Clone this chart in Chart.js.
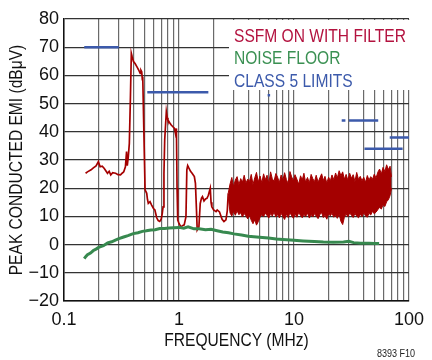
<!DOCTYPE html>
<html>
<head>
<meta charset="utf-8">
<script src="https://cdn.jsdelivr.net/npm/chart.js@4"></script>
<style>
  html, body { margin: 0; padding: 0; background: #fff; }
  #wrap { width: 432px; height: 360px; }
</style>
</head>
<body>
<div id="wrap"><canvas id="emi" width="432" height="360"></canvas></div>
<script>
// SSFM on with filter, low-frequency trace (MHz, dBuV)
const redFreq = [0.154, 0.16, 0.172, 0.18, 0.19, 0.199, 0.206, 0.215, 0.224, 0.239, 0.247, 0.255, 0.265, 0.281, 0.295, 0.31, 0.322, 0.331, 0.342, 0.35, 0.355, 0.362, 0.37, 0.378, 0.385, 0.392, 0.402, 0.415, 0.43, 0.445, 0.46, 0.467, 0.474, 0.48, 0.484, 0.495, 0.507, 0.524, 0.532, 0.541, 0.56, 0.578, 0.6, 0.617, 0.64, 0.66, 0.68, 0.7, 0.715, 0.727, 0.74, 0.751, 0.776, 0.79, 0.801, 0.83, 0.856, 0.885, 0.914, 0.932, 0.95, 0.962, 0.975, 1.0, 1.04, 1.08, 1.11, 1.15, 1.17, 1.19, 1.22, 1.26, 1.3, 1.36, 1.39, 1.42, 1.44, 1.49, 1.53, 1.57, 1.6, 1.65, 1.7, 1.75, 1.8, 1.87, 1.9, 1.93, 2.0, 2.1, 2.15, 2.25, 2.37, 2.46, 2.56, 2.63, 2.68];
const redDb = [25.3, 25.8, 26.5, 27.2, 27.9, 29.4, 27.6, 27.8, 27.0, 25.3, 26.0, 24.7, 25.5, 25.3, 24.8, 24.7, 25.4, 25.8, 27.6, 33, 28, 31, 35.9, 52, 67.8, 66.5, 64.9, 64.2, 63.1, 62, 60.7, 61.8, 61.3, 58.5, 59.5, 40, 19.4, 18.2, 16, 14.6, 15.2, 14, 12.8, 12.3, 9.5, 8.5, 8.2, 9, 11, 13.4, 25, 37.1, 47.1, 45, 44.2, 43.2, 42.4, 41.8, 41.2, 39.4, 41.2, 20, 8.7, 7.5, 6.3, 6.8, 7.0, 9.9, 26.5, 28, 27.1, 26, 25.3, 24.1, 21.7, 12, 5.2, 6.3, 14.6, 16.5, 17, 15.5, 16.2, 16.4, 17.5, 20, 15, 13.4, 12.3, 11.7, 12.3, 11.6, 9, 8.2, 8.8, 12, 18.2];

// SSFM on with filter, dense spur region: upper and lower edge of the trace
const bandFreq = [
    2.68, 2.78, 2.88, 2.98, 3.09, 3.2, 3.32, 3.44, 3.56, 3.69,
    3.82, 3.96, 4.1, 4.25, 4.4, 4.56, 4.72, 4.89, 5.07, 5.25,
    5.44, 5.63, 5.83, 6.04, 6.26, 6.48, 6.71, 6.95, 7.2, 7.46,
    7.73, 8.0, 8.29, 8.59, 8.9, 9.22, 9.55, 9.89, 10.2, 10.6,
    11.0, 11.4, 11.8, 12.2, 12.6, 13.1, 13.6, 14.1, 14.6, 15.1,
    15.6, 16.2, 16.8, 17.4, 18.0, 18.6, 19.3, 20.0, 20.7, 21.4,
    22.2, 23.0, 23.8, 24.7, 25.6, 26.5, 27.4, 28.4, 29.4, 30.5,
    31.6, 32.7, 33.9, 35.1, 36.4, 37.7, 39.0, 40.4, 41.9, 43.4,
    44.9, 46.5, 48.2, 49.9, 51.7, 53.6, 55.5, 57.5, 59.5, 61.7,
    63.9, 66.2, 68.5, 70.5];
const bandHi = [
    18.2, 21.5, 23.8, 20.6, 22.9, 24.1, 21.2, 23.4, 22.1, 24.6,
    21.8, 23.2, 22.4, 24.9, 21.3, 23.7, 25.6, 22.2, 24.3, 21.9,
    25.1, 23.0, 24.6, 21.7, 25.8, 23.3, 22.5, 25.2, 23.9, 22.0,
    24.7, 22.8, 25.5, 23.1, 21.6, 25.9, 24.0, 22.6, 24.8, 23.2,
    21.4, 24.4, 22.9, 25.3, 22.2, 23.8, 21.9, 24.9, 23.3, 22.4,
    24.6, 22.1, 23.7, 25.1, 22.7, 24.2, 21.8, 23.9, 22.6, 24.7,
    23.0, 25.4, 23.6, 26.2, 24.4, 25.8, 23.2, 24.9, 22.8, 25.3,
    23.5, 24.8, 22.4, 25.6, 23.1, 24.2, 22.6, 23.9, 22.1, 24.5,
    22.9, 24.1, 23.2, 25.0, 23.6, 25.7, 26.8, 25.1, 27.4, 25.9,
    28.3, 26.6, 27.8, 24.0];
const bandLo = [
    17.0, 11.2, 10.1, 11.8, 10.4, 12.0, 10.6, 11.3, 9.8, 11.0,
    10.2, 9.1, 10.5, 8.6, 7.4, 8.8, 6.9, 8.1, 9.7, 10.6,
    9.9, 11.2, 10.3, 9.4, 11.0, 10.1, 11.6, 9.8, 10.7, 9.5,
    11.1, 10.0, 8.9, 10.8, 9.6, 11.3, 10.2, 9.3, 10.9, 9.7,
    11.4, 10.3, 9.5, 10.8, 9.9, 11.2, 9.4, 10.6, 9.8, 11.0,
    10.1, 9.2, 10.7, 11.3, 9.6, 10.4, 9.0, 10.9, 10.2, 11.1,
    9.7, 10.5, 9.3, 10.8, 8.2, 7.1, 9.6, 10.9, 9.8, 11.2,
    10.4, 9.6, 11.0, 10.1, 9.5, 10.8, 9.9, 11.3, 10.2, 9.7,
    11.1, 10.5, 11.8, 10.9, 11.5, 12.4, 13.2, 12.6, 14.1, 13.5,
    15.2, 15.9, 17.4, 20.0];

// Noise floor
const floorFreq = [0.15, 0.155, 0.16, 0.17, 0.18, 0.19, 0.2, 0.22, 0.24, 0.26, 0.28, 0.3, 0.33, 0.36, 0.4, 0.44, 0.48, 0.52, 0.57, 0.62, 0.68, 0.75, 0.82, 0.9, 1.0, 1.1, 1.2, 1.35, 1.5, 1.7, 1.9, 2.1, 2.4, 2.7, 3.0, 3.5, 4.0, 5.0, 6.0, 7.0, 8.0, 10, 12, 15, 18, 22, 27, 30, 33, 38, 45, 50, 55];
const floorDb = [-5, -4.2, -3.6, -3, -2.1, -1.6, -1, -0.4, 0.6, 1, 1.6, 2.1, 2.7, 3.2, 3.9, 4.2, 4.7, 4.9, 5.2, 5.3, 5.7, 5.7, 5.9, 6.0, 6.1, 5.8, 6.3, 5.6, 5.6, 5.3, 5.4, 5.0, 4.5, 4.2, 3.8, 3.4, 3.0, 2.6, 2.3, 2.0, 1.8, 1.5, 1.3, 1.1, 0.9, 0.8, 0.9, 1.2, 0.7, 0.5, 0.5, 0.4, 0.4];

// Class 5 limits
const limitStart = [0.15, 0.53, 5.9, 26, 30, 41, 68];
const limitEnd = [0.3, 1.8, 6.2, 28, 54, 88, 100];
const limitDb = [70, 54, 53, 44, 44, 34, 38];

const xGrid = [0.1, 0.2, 0.3, 0.4, 0.5, 0.6, 0.7, 0.8, 0.9, 1, 2, 3, 4, 5, 6, 7, 8, 9, 10, 20, 30, 40, 50, 60, 70, 80, 90, 100];
const xLabels = ['0.1', '1', '10', '100'];

const legendItems = ['SSFM ON WITH FILTER', 'NOISE FLOOR', 'CLASS 5 LIMITS'];

const RED = '#a40000';
const GREEN = '#37894f';
const BLUE = '#3c5aab';
const FONT = "'Liberation Sans', Arial, sans-serif";

const pts = (xs, ys) => xs.map((x, i) => ({ x: x, y: ys[i] }));

const limitPts = [];
limitStart.forEach((s, i) => {
    limitPts.push({ x: s, y: limitDb[i] }, { x: limitEnd[i], y: limitDb[i] }, { x: limitEnd[i], y: null });
});

// narrow (condensed) text: Liberation Sans squeezed horizontally
function narrowText(c, text, x, y, align, rot) {
    c.save();
    c.translate(x, y);
    if (rot) c.rotate(rot);
    c.scale(0.82, 1);
    c.textAlign = align;
    c.fillText(text, 0, 0);
    c.restore();
}

const overlay = {
    id: 'overlay',
    beforeDatasetsDraw(chart) {
        const c = chart.ctx;
        c.save();
        c.fillStyle = '#fff';
        c.fillRect(229, 20, 183, 70);
        c.restore();
    },
    afterDraw(chart) {
        const c = chart.ctx;
        const a = chart.chartArea;
        c.save();
        c.textBaseline = 'alphabetic';
        c.font = '19px ' + FONT;
        const cols = ['#b3123f', '#3a9052', BLUE];
        const ys = [42, 64, 87];
        legendItems.forEach((t, i) => {
            c.fillStyle = cols[i];
            narrowText(c, t, 234, ys[i], 'left');
        });
        c.fillStyle = '#111';
        c.textBaseline = 'middle';
        narrowText(c, 'FREQUENCY (MHz)', (a.left + a.right) / 2, 341, 'center');
        narrowText(c, 'PEAK CONDUCTED EMI (dB\u03bcV)', 17, (a.top + a.bottom) / 2, 'center', -Math.PI / 2);
        c.fillStyle = '#222';
        c.textBaseline = 'alphabetic';
        c.font = '11px ' + FONT;
        narrowText(c, '8393 F10', 415, 357, 'right');
        c.restore();
    }
};

new Chart(document.getElementById('emi'), {
    type: 'line',
    data: {
        datasets: [
            { data: pts(floorFreq, floorDb), borderColor: GREEN, borderWidth: 3 },
            { data: pts(bandFreq, bandHi), borderColor: RED, borderWidth: 1, backgroundColor: RED, fill: '+1' },
            { data: pts(bandFreq, bandLo), borderColor: RED, borderWidth: 1 },
            { data: pts(redFreq, redDb), borderColor: RED, borderWidth: 1.7 },
            { data: limitPts, borderColor: BLUE, borderWidth: 2.5, spanGaps: false }
        ]
    },
    options: {
        responsive: false,
        animation: false,
        layout: { padding: { top: 19, right: 16, left: 0, bottom: 0 } },
        elements: { point: { radius: 0 }, line: { tension: 0 } },
        plugins: { legend: { display: false }, tooltip: { enabled: false } },
        scales: {
            x: {
                type: 'logarithmic',
                min: 0.1,
                max: 100,
                afterBuildTicks: s => { s.ticks = xGrid.map(v => ({ value: v })); },
                afterFit: s => { s.height = 59; },
                grid: { color: '#6a6a6a', lineWidth: 1.2, drawTicks: false },
                border: { color: '#111', width: 1.5 },
                ticks: {
                    autoSkip: false,
                    maxRotation: 0,
                    padding: 8,
                    color: '#111',
                    font: { family: FONT, size: 18 },
                    callback: v => xLabels.includes(String(v)) ? String(v) : ''
                }
            },
            y: {
                min: -20,
                max: 80,
                afterFit: s => { s.width = 64; },
                grid: { color: '#333', lineWidth: 1.2, drawTicks: false },
                border: { color: '#111', width: 1.5 },
                ticks: {
                    stepSize: 10,
                    padding: 5,
                    color: '#111',
                    font: { family: FONT, size: 18 },
                    callback: v => v < 0 ? '\u2212' + Math.abs(v) : String(v)
                }
            }
        }
    },
    plugins: [overlay]
});
</script>
</body>
</html>
